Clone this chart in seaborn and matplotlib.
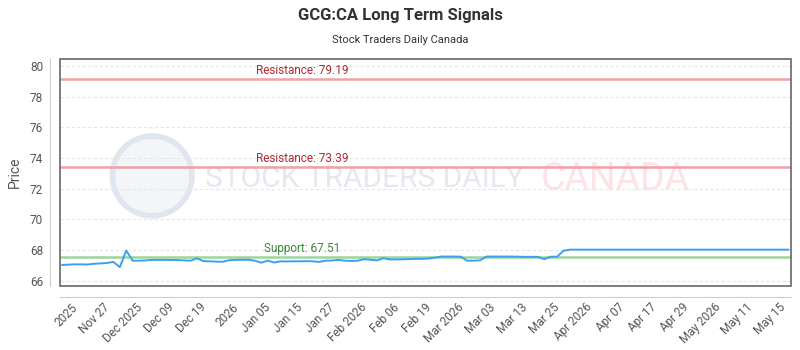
import matplotlib.pyplot as plt
import matplotlib.patches as mpatches
import matplotlib.transforms as mtransforms
import numpy as np
import pandas as pd
import seaborn as sns

# data
prices = [
    67.02, 67.04, 67.06, 67.06, 67.05, 67.10, 67.12, 67.15, 67.22, 66.88,
    67.96, 67.30, 67.30, 67.32, 67.35, 67.35, 67.35, 67.35, 67.34, 67.32,
    67.30, 67.45, 67.27, 67.26, 67.24, 67.23, 67.33, 67.35, 67.36, 67.36,
    67.30, 67.17, 67.30, 67.18, 67.26, 67.25, 67.26, 67.26, 67.27, 67.26,
    67.22, 67.30, 67.31, 67.35, 67.30, 67.28, 67.30, 67.40, 67.36, 67.32,
    67.46, 67.38, 67.38, 67.39, 67.40, 67.42, 67.42, 67.44, 67.50, 67.57,
    67.57, 67.57, 67.56, 67.30, 67.30, 67.32, 67.57, 67.57, 67.57, 67.57,
    67.57, 67.56, 67.55, 67.55, 67.55, 67.40, 67.56, 67.56, 67.95, 68.02,
    68.02, 68.02, 68.02, 68.02, 68.02, 68.02, 68.02, 68.02, 68.02, 68.02,
    68.02, 68.02, 68.02, 68.02, 68.02, 68.02, 68.02, 68.02, 68.02, 68.02,
    68.02, 68.02, 68.02, 68.02, 68.02, 68.02, 68.02, 68.02, 68.02, 68.02,
    68.02, 68.02, 68.02, 68.02,
]
tick_labels = ["2025", "Nov 27", "Dec 2025", "Dec 09", "Dec 19", "2026", "Jan 05",
               "Jan 15", "Jan 27", "Feb 2026", "Feb 06", "Feb 19", "Mar 2026",
               "Mar 03", "Mar 13", "Mar 25", "Apr 2026", "Apr 07", "Apr 17",
               "Apr 29", "May 2026", "May 11", "May 15"]
tick_first = 3
tick_step = 5
resistances = [79.19, 73.39]
supports = [67.51]

df = pd.DataFrame({"idx": np.arange(len(prices)), "price": prices})

sns.set_style("white")
plt.rcParams["font.family"] = ["Roboto", "DejaVu Sans"]

fig = plt.figure(figsize=(8, 3.5), dpi=100)
ax = fig.add_axes([0.075, 0.183, 0.914, 0.648])

# outer frame + offset axis lines (set before ticks, set_position resets them)
for side in ["top", "right"]:
    ax.spines[side].set_visible(False)
ax.spines["left"].set_position(("outward", 7.2))
ax.spines["bottom"].set_position(("outward", 8))
ax.spines["left"].set_color("#cccccc")
ax.spines["bottom"].set_color("#cccccc")
ax.add_patch(mpatches.Rectangle((0, 0), 1, 1, transform=ax.transAxes, fill=False,
                                edgecolor="#666666", lw=1.2, clip_on=False, zorder=5))

# watermark
ax.add_patch(mpatches.Ellipse((0.126, 0.485), 0.109, 0.352, transform=ax.transAxes,
                              facecolor="#f3f5f9", edgecolor="#e0e6ef", lw=4, zorder=0))
ax.text(0.198, 0.47, "STOCK TRADERS DAILY", transform=ax.transAxes, fontsize=21.5,
        color="#e5e8ef", ha="left", va="center", zorder=0)
ax.text(0.657, 0.47, "CANADA", transform=ax.transAxes, fontsize=27,
        color="#fce3e5", ha="left", va="center", zorder=0)

for r in resistances:
    ax.axhline(r, color="#f0a0a6", lw=1.8, zorder=2)
    ax.annotate(f"Resistance: {r:.2f}", xy=(0.331, r), xycoords=("axes fraction", "data"),
                xytext=(0, 1.5), textcoords="offset points", ha="center", va="bottom",
                fontsize=8.5, color="#b02a30")
for s in supports:
    ax.axhline(s, color="#9fd49a", lw=1.8, zorder=2)
    ax.annotate(f"Support: {s:.2f}", xy=(0.331, s), xycoords=("axes fraction", "data"),
                xytext=(0, 1.5), textcoords="offset points", ha="center", va="bottom",
                fontsize=8.5, color="#3a8a3a")

sns.lineplot(data=df, x="idx", y="price", ax=ax, color="#3aa0f0", lw=1.4, zorder=3)

ax.set_ylim(65.65, 80.46)
ax.set_xlim(-0.3, len(prices) - 1 + 0.4)
ax.set_yticks(np.arange(66, 81, 2))
ax.yaxis.grid(True, color="#e6e6e6", ls=(0, (3, 2)), lw=0.8)
ax.set_xticks(np.arange(tick_first, len(prices), tick_step))
ax.set_xticklabels(tick_labels)
ax.tick_params(axis="both", length=0, labelsize=8.5, labelcolor="#555555")
ax.tick_params(axis="y", pad=5)
ax.tick_params(axis="x", pad=6, labelrotation=45)
shift = mtransforms.ScaledTranslation(-4 / 72, 0, fig.dpi_scale_trans)
for lbl in ax.get_xticklabels():
    lbl.set_ha("right")
    lbl.set_va("center")
    lbl.set_rotation_mode("anchor")
    lbl.set_transform(lbl.get_transform() + shift)

ax.set_xlabel("")
ax.set_ylabel("Price", fontsize=10, color="#555555", labelpad=6)

fig.text(0.5, 0.955, "GCG:CA Long Term Signals", ha="center", va="center",
         fontsize=12, fontweight="bold", color="#333333")
fig.text(0.5, 0.887, "Stock Traders Daily Canada", ha="center", va="center",
         fontsize=8, color="#333333")

fig.savefig("out.png", dpi=100)
